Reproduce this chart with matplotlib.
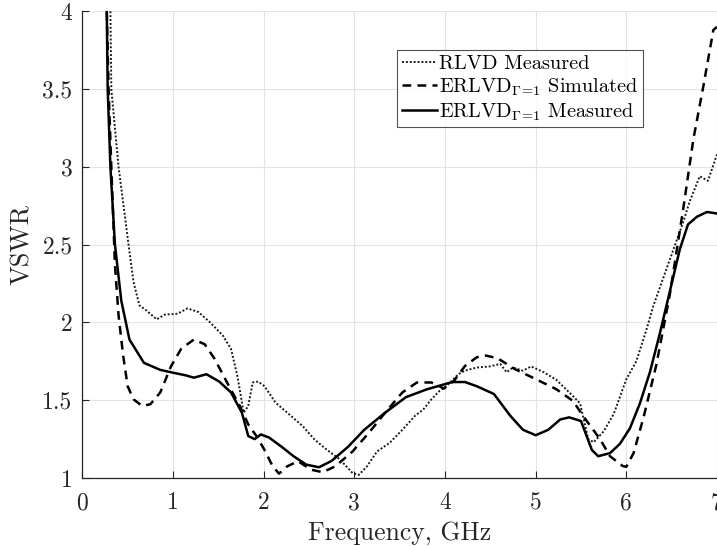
import matplotlib
matplotlib.use("Agg")
import matplotlib.pyplot as plt
import numpy as np

plt.rcParams['font.family'] = ['cmr10', 'DejaVu Serif']
plt.rcParams['mathtext.fontset'] = 'cm'
plt.rcParams['axes.formatter.use_mathtext'] = True

# RLVD Measured (dotted)
f_rlvd = [0.31, 0.32, 0.40, 0.51, 0.565, 0.63, 0.70, 0.82, 0.91, 1.05, 1.16, 1.28, 1.41, 1.55,
          1.64, 1.71, 1.78, 1.83, 1.88, 1.94, 2.01, 2.13, 2.26, 2.43, 2.56, 2.70, 2.84, 2.98,
          3.05, 3.14, 3.25, 3.39, 3.53, 3.67, 3.76, 3.85, 3.94, 4.03, 4.15, 4.22, 4.35, 4.49,
          4.61, 4.68, 4.75, 4.86, 4.95, 5.09, 5.23, 5.38, 5.49, 5.58, 5.64, 5.75, 5.86, 6.00,
          6.11, 6.22, 6.30, 6.41, 6.52, 6.63, 6.70, 6.81, 6.90, 7.00]
v_rlvd = [4.0, 3.5, 3.0, 2.5, 2.26, 2.11, 2.08, 2.02, 2.05, 2.056, 2.09, 2.067, 2.0, 1.916,
          1.83, 1.657, 1.42, 1.463, 1.614, 1.62, 1.59, 1.485, 1.42, 1.334, 1.248, 1.18, 1.12, 1.032,
          1.02, 1.075, 1.17, 1.226, 1.31, 1.40, 1.44, 1.506, 1.56, 1.60, 1.668, 1.69, 1.71, 1.717,
          1.733, 1.68, 1.71, 1.69, 1.717, 1.68, 1.63, 1.545, 1.48, 1.25, 1.23, 1.30, 1.41, 1.635,
          1.75, 1.95, 2.11, 2.29, 2.47, 2.65, 2.78, 2.94, 2.91, 3.08]

# ERLVD Simulated (dashed)
f_sim = [0.27, 0.29, 0.32, 0.36, 0.40, 0.45, 0.50, 0.565, 0.66, 0.75, 0.86, 0.98, 1.09, 1.23,
         1.35, 1.46, 1.60, 1.74, 1.83, 1.92, 2.01, 2.10, 2.17, 2.26, 2.38, 2.52, 2.65, 2.79,
         2.98, 3.16, 3.34, 3.53, 3.69, 3.85, 3.99, 4.10, 4.22, 4.35, 4.45, 4.58, 4.77, 5.00,
         5.23, 5.41, 5.55, 5.71, 5.82, 5.96, 6.00, 6.08, 6.19, 6.33, 6.48, 6.63, 6.74, 6.85,
         6.96, 7.00]
v_sim = [4.0, 3.5, 3.0, 2.37, 2.045, 1.79, 1.59, 1.506, 1.463, 1.474, 1.55, 1.72, 1.83, 1.89,
         1.86, 1.765, 1.61, 1.46, 1.345, 1.27, 1.18, 1.075, 1.028, 1.075, 1.108, 1.054, 1.037, 1.075,
         1.17, 1.29, 1.42, 1.55, 1.614, 1.614, 1.575, 1.625, 1.72, 1.776, 1.787, 1.77, 1.70, 1.636,
         1.57, 1.496, 1.377, 1.25, 1.14, 1.077, 1.072, 1.16, 1.39, 1.725, 2.18, 2.74, 3.18, 3.52,
         3.88, 3.90]

# ERLVD Measured (solid)
f_meas = [0.27, 0.28, 0.31, 0.36, 0.43, 0.52, 0.68, 0.86, 1.00, 1.14, 1.23, 1.37, 1.51, 1.64,
          1.76, 1.83, 1.90, 1.97, 2.06, 2.20, 2.33, 2.47, 2.61, 2.75, 2.93, 3.11, 3.34, 3.57,
          3.80, 4.08, 4.22, 4.35, 4.54, 4.72, 4.86, 5.00, 5.14, 5.27, 5.37, 5.50, 5.62, 5.69,
          5.82, 5.93, 6.04, 6.15, 6.26, 6.37, 6.48, 6.59, 6.68, 6.78, 6.89, 7.00]
v_meas = [4.0, 3.5, 3.0, 2.5, 2.14, 1.89, 1.74, 1.695, 1.677, 1.66, 1.645, 1.667, 1.62, 1.55,
          1.42, 1.27, 1.25, 1.28, 1.26, 1.20, 1.14, 1.086, 1.069, 1.11, 1.20, 1.31, 1.42, 1.52,
          1.57, 1.617, 1.617, 1.59, 1.54, 1.40, 1.31, 1.275, 1.31, 1.376, 1.39, 1.366, 1.18, 1.14,
          1.16, 1.22, 1.32, 1.48, 1.68, 1.93, 2.20, 2.47, 2.63, 2.68, 2.71, 2.70]

x_ticks = [0, 1, 2, 3, 4, 5, 6, 7]
y_ticks = [1, 1.5, 2, 2.5, 3, 3.5, 4]
y_ticklabels = ['1', '1.5', '2', '2.5', '3', '3.5', '4']

labels = [r'RLVD Measured',
          r'ERLVD$_{\Gamma\!=\!1}$ Simulated',
          r'ERLVD$_{\Gamma\!=\!1}$ Measured']

fig = plt.figure(figsize=(7.17, 5.46), dpi=100)
ax = fig.add_axes([82.3 / 717, 1 - 478 / 546, (717 - 82.3) / 717, (478 - 11.3) / 546])

ax.plot(f_rlvd, v_rlvd, color='#1a1a1a', linestyle=(0, (1, 1)), linewidth=1.4, label=labels[0])
ax.plot(f_sim, v_sim, color='black', linestyle=(0, (3.5, 2.5)), linewidth=1.8, label=labels[1])
ax.plot(f_meas, v_meas, color='black', linestyle='-', linewidth=1.8, label=labels[2])

ax.set_xlim(0, 7)
ax.set_ylim(1, 4)
ax.set_xticks(x_ticks)
ax.set_xticklabels([str(t) for t in x_ticks])
ax.set_yticks(y_ticks)
ax.set_yticklabels(y_ticklabels)

ax.grid(True, color='#e3e3e3', linewidth=0.8)
ax.set_axisbelow(True)
for s in ['top', 'right']:
    ax.spines[s].set_visible(False)
for s in ['left', 'bottom']:
    ax.spines[s].set_color('#262626')
    ax.spines[s].set_linewidth(0.9)
ax.tick_params(direction='in', length=5, width=0.8, colors='#262626', labelsize=17,
               top=False, right=False)
ax.tick_params(axis='x', pad=10)
ax.tick_params(axis='y', pad=7)

ax.set_xlabel('Frequency, GHz', fontsize=18.5, color='#262626', labelpad=5)
ax.set_ylabel('VSWR', fontsize=19, color='#262626', labelpad=6)

leg = ax.legend(loc='upper left', bbox_to_anchor=((397.3 - 82.3) / 634.7, (478 - 50) / 466.7),
                fontsize=14.6, frameon=True, fancybox=False, handlelength=1.75,
                handletextpad=0.1, borderpad=0.22, labelspacing=0.18, borderaxespad=0)
leg.get_frame().set_edgecolor('#262626')
leg.get_frame().set_linewidth(0.8)

fig.savefig('out.png', dpi=100)
